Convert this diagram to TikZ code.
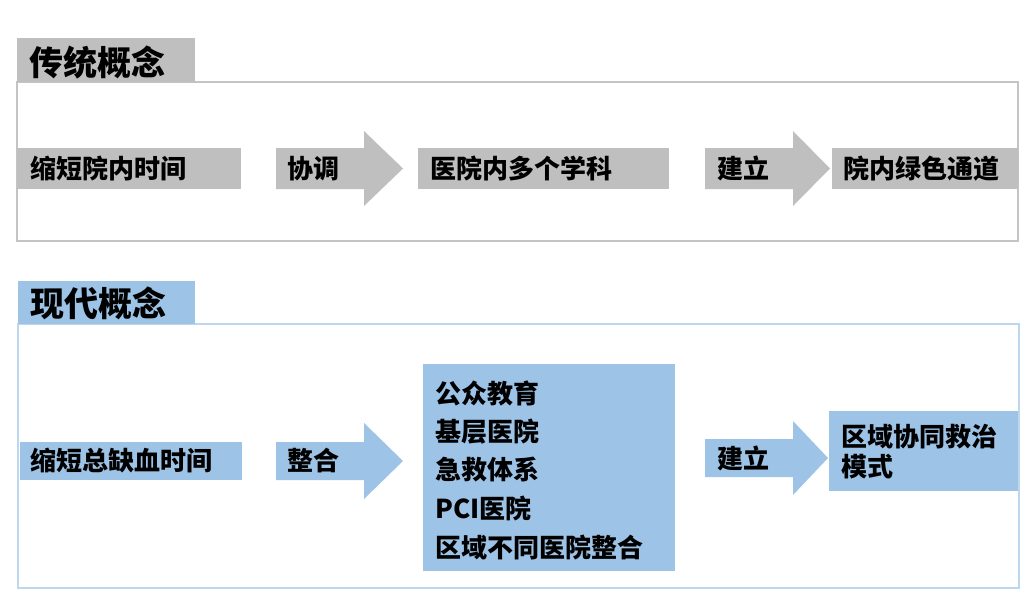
\documentclass[tikz,border=0pt]{standalone}
\usepackage{fontspec}
\setmainfont{Noto Sans CJK SC}
\definecolor{gfill}{HTML}{BFBFBF}
\definecolor{bfill}{HTML}{9DC3E6}
\definecolor{gline}{HTML}{C4C4C4}
\definecolor{bline}{HTML}{BDD7EE}
\begin{document}
\begin{tikzpicture}[x=1pt,y=-1pt,
  txt/.style={inner sep=0pt, anchor=west, font=\bfseries\fontsize{26}{30}\selectfont, text=black},
  ttl/.style={inner sep=0pt, anchor=west, font=\bfseries\fontsize{34}{38}\selectfont, text=black},
  gframe/.style={draw=gline, line width=2pt},
  bframe/.style={draw=bline, line width=2pt}]
\useasboundingbox (0,0) rectangle (1024,590);
\fill[white] (0,0) rectangle (1024,590);
% ---------- top section ----------
\draw[gframe] (17,82) rectangle (1018,241);
\fill[gfill] (17,38) rectangle (195,82);
\node[ttl] (t1) at (29,62) {传统概念};
\fill[gfill] (17,148) rectangle (241,189);
\node[txt] (a1) at (30,168.5) {缩短院内时间};
\fill[gfill] (276,148) -- (364,148) -- (364,131) -- (403,168.5) -- (364,206) -- (364,189) -- (276,189) -- cycle;
\node[txt] (a2) at (287,168.5) {协调};
\fill[gfill] (418,148) rectangle (669,189);
\node[txt] (a3) at (430,168.5) {医院内多个学科};
\fill[gfill] (705,148) -- (793,148) -- (793,131) -- (830,168.5) -- (793,206) -- (793,189) -- (705,189) -- cycle;
\node[txt] (a4) at (717,168.5) {建立};
\fill[gfill] (832,148) rectangle (1018,189);
\node[txt] (a5) at (843,168.5) {院内绿色通道};
% ---------- bottom section ----------
\draw[bframe] (18,324) rectangle (1019,588);
\fill[bfill] (18,281) rectangle (195,324);
\node[ttl] (t2) at (30,303) {现代概念};
\fill[bfill] (20,442) rectangle (242,480);
\node[txt] (b1) at (30,461) {缩短总缺血时间};
\fill[bfill] (276,442) -- (364,442) -- (364,423) -- (403,461) -- (364,499) -- (364,480) -- (276,480) -- cycle;
\node[txt] (b2) at (287,461) {整合};
\fill[bfill] (423,364) rectangle (675,571);
\node[txt] (b3) at (435,393) {公众教育};
\node[txt] (b4) at (435,431.5) {基层医院};
\node[txt] (b5) at (435,470) {急救体系};
\node[txt] (b6) at (435,508.5) {PCI医院};
\node[txt] (b7) at (435,547) {区域不同医院整合};
\fill[bfill] (705,439) -- (793,439) -- (793,421) -- (828,458) -- (793,495) -- (793,477) -- (705,477) -- cycle;
\node[txt] (b8) at (717,458) {建立};
\fill[bfill] (829,411) rectangle (1018,491);
\node[txt] (b9) at (841,437) {区域协同救治};
\node[txt] (b10) at (841,467) {模式};
\end{tikzpicture}
\end{document}
